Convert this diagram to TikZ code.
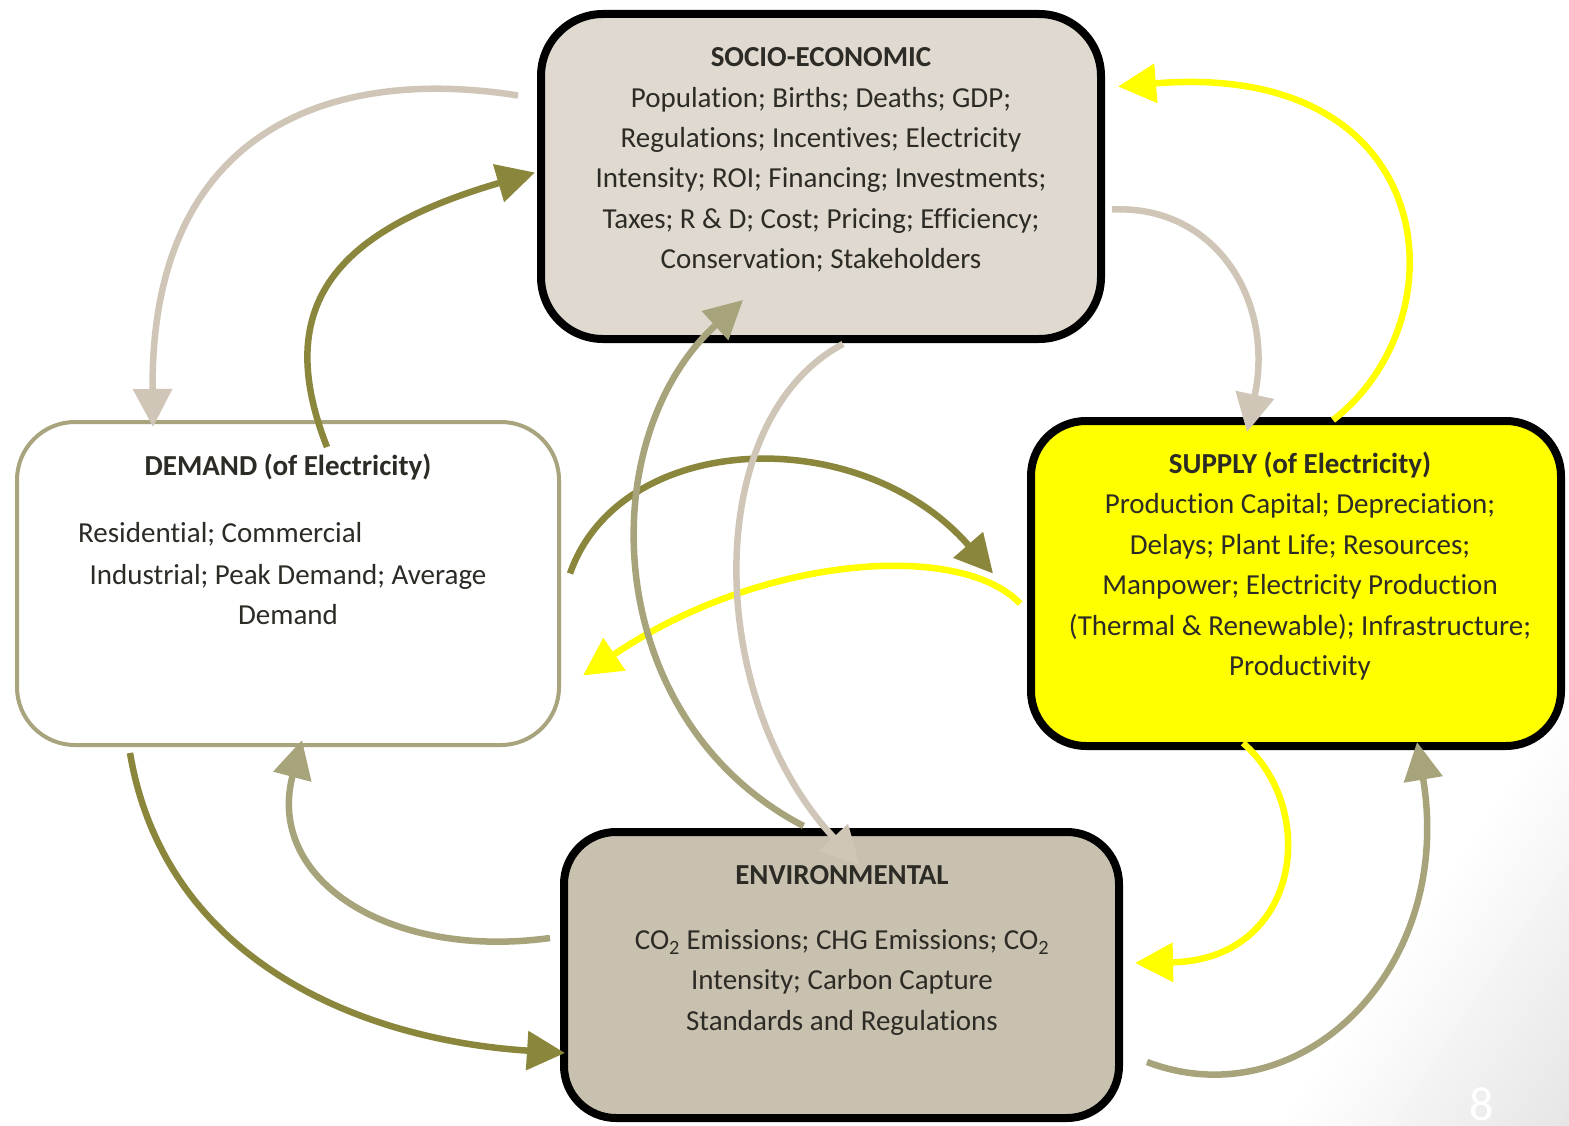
\documentclass[tikz,border=0pt]{standalone}
\usepackage{fontspec}
\setmainfont{Carlito}[Ligatures=NoCommon]
\usetikzlibrary{arrows.meta}

\definecolor{socfill}{HTML}{DFD9CF}
\definecolor{envfill}{HTML}{C8C1AF}
\definecolor{supfill}{HTML}{FFFF00}
\definecolor{demline}{HTML}{A8A57E}
\definecolor{lbeige}{HTML}{D0C6B8}
\definecolor{dolive}{HTML}{8A863C}
\definecolor{molive}{HTML}{A7A37A}
\definecolor{yel}{HTML}{FFFF00}
\definecolor{ink}{HTML}{2D2B25}

\tikzset{
  box/.style={rectangle, inner sep=0pt},
  socbox/.style={box, draw=black, line width=8pt, fill=socfill, rounded corners=62pt, minimum width=560pt, minimum height=325pt},
  dembox/.style={box, draw=demline, line width=4pt, fill=white, rounded corners=58pt, minimum width=542pt, minimum height=323pt},
  supbox/.style={box, draw=black, line width=8pt, fill=supfill, rounded corners=55pt, minimum width=530pt, minimum height=325pt},
  envbox/.style={box, draw=black, line width=8pt, fill=envfill, rounded corners=52pt, minimum width=555pt, minimum height=286pt},
  txt/.style={align=center, text=ink, inner sep=0pt, font=\fontsize{29pt}{40.4pt}\selectfont},
  link/.style={line width=6.5pt, -{Triangle[length=38pt,width=38pt]}},
}

\begin{document}
\begin{tikzpicture}[x=1pt,y=-1pt]
\useasboundingbox (0,0) rectangle (1569,1126);
\begin{scope}
\clip (0,0) rectangle (1569,1126);
\fill[white] (0,0) rectangle (1569,1126);
\begin{scope}[shift={(1270,1126)}, rotate=-33.9]
\foreach \i [evaluate=\i as \g using 10*\i/24] in {0,...,23}
  \fill[black!\g] (10*\i,-1200) rectangle (10*\i+11,1200);
\fill[black!10] (240,-1200) rectangle (900,1200);
\end{scope}
\end{scope}

\path (821,176.5) node[socbox] (socio) {};
\path (288,583.5) node[dembox] (demand) {};
\path (1296,583.5) node[supbox] (supply) {};
\path (841.5,975) node[envbox] (env) {};

\draw[link, lbeige] ([shift={(-19,-81)}]socio.west) .. controls +(-188,-30) and +(-3,-297) .. ([shift={(-135,7)}]demand.north);
\draw[link, dolive] ([shift={(39,27)}]demand.north) .. controls +(-57,-145) and +(-195,57) .. ([shift={(-2,-4)}]socio.west);
\draw[link, lbeige] ([shift={(7,33)}]socio.east) .. controls +(103,-5) and +(28,-132) .. ([shift={(-49,15)}]supply.north);
\draw[link, yel] ([shift={(37,3)}]supply.north) .. controls +(130,-100) and +(325,-27) .. ([shift={(13,-90)}]socio.east);
\draw[link, dolive] ([shift={(9,-10)}]demand.east) .. controls +(50,-143) and +(-133,-153) .. ([shift={(-34,-10)}]supply.west);
\draw[link, yel] ([shift={(-7,20)}]supply.west) .. controls +(-60,-63) and +(177,-120) .. ([shift={(22,92)}]demand.east);
\draw[link, molive] ([shift={(-38,-2)}]env.north) .. controls +(-203,-106) and +(-153,140) .. ([shift={(-78,-43)}]socio.south);
\draw[link, lbeige] ([shift={(22,1)}]socio.south) .. controls +(-143,76) and +(-155,-165) .. ([shift={(18,37)}]env.north);
\draw[link, dolive] ([shift={(-158,6)}]demand.south) .. controls +(35,207) and +(-205,-13) .. ([shift={(5,78)}]env.west);
\draw[link, molive] ([shift={(-10,-37)}]env.west) .. controls +(-160,22) and +(-37,140) .. ([shift={(14,-7)}]demand.south);
\draw[link, yel] ([shift={(-53,-7)}]supply.south) .. controls +(77,67) and +(165,-3) .. ([shift={(12,-12)}]env.east);
\draw[link, molive] ([shift={(24,87)}]env.east) .. controls +(153,58) and +(38,228) .. ([shift={(121,-8)}]supply.south);

\path (821,160) node[txt] (sociotext) {\textbf{SOCIO-ECONOMIC}\\Population; Births; Deaths; GDP;\\Regulations; Incentives; Electricity\\Intensity; ROI; Financing; Investments;\\Taxes; R \& D; Cost; Pricing; Efficiency;\\Conservation; Stakeholders};
\path (288,467) node[txt] (demandtitle) {\textbf{DEMAND (of Electricity)}};
\path (78,534) node[txt, anchor=west] (demandline) {Residential; Commercial};
\path (288,594.5) node[txt] (demandtext) {Industrial; Peak Demand; Average\\Demand};
\path (1300,566) node[txt] (supplytext) {\textbf{SUPPLY (of Electricity)}\\Production Capital; Depreciation;\\Delays; Plant Life; Resources;\\Manpower; Electricity Production\\(Thermal \& Renewable); Infrastructure;\\Productivity};
\path (842,875) node[txt] (envtitle) {\textbf{ENVIRONMENTAL}};
\path (842,982.5) node[txt] (envtext) {CO\textsubscript{2} Emissions; CHG Emissions; CO\textsubscript{2}\\Intensity; Carbon Capture\\Standards and Regulations};
\path (1482,1104) node[text=white, font=\fontsize{48pt}{48pt}\selectfont] (pagenum) {8};
\end{tikzpicture}
\end{document}
